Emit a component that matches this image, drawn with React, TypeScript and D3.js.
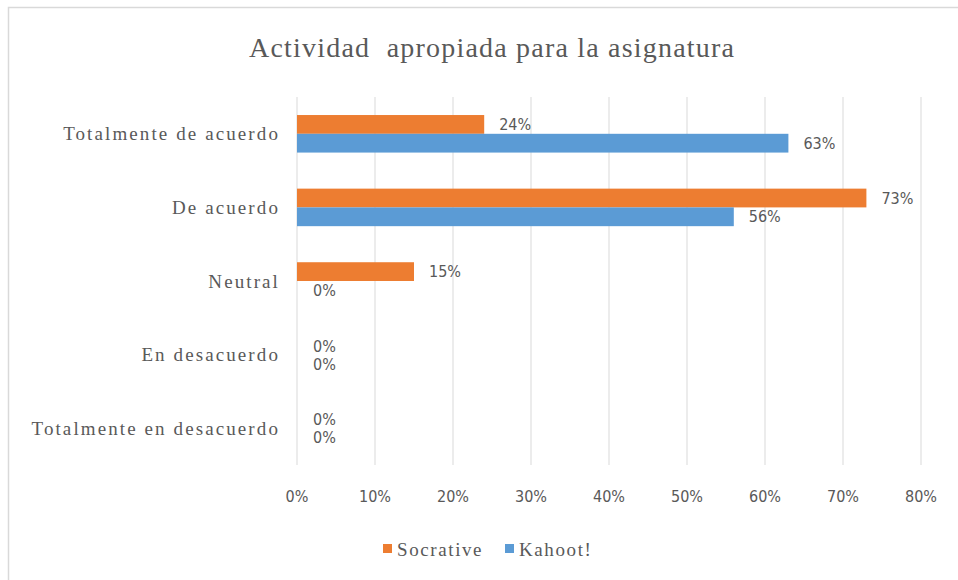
import React from 'react';
import * as d3 from 'd3';

const categories = [
  'Totalmente de acuerdo',
  'De acuerdo',
  'Neutral',
  'En desacuerdo',
  'Totalmente en desacuerdo'
];
const seriesNames = ['Socrative', 'Kahoot!'];
const socrative = [0.24, 0.73, 0.15, 0, 0];
const kahoot = [0.63, 0.56, 0, 0, 0];
const xTicks = [0, 0.1, 0.2, 0.3, 0.4, 0.5, 0.6, 0.7, 0.8];
const colors = ['#ed7d31', '#5b9bd5'];

const width = 958;
const height = 580;
const margin = { top: 97, right: 37, bottom: 115, left: 297 };
const serif = '"Liberation Serif", "DejaVu Serif", serif';
const sans = '"Liberation Sans Narrow", "DejaVu Sans Condensed", "Liberation Sans", sans-serif';

const App = () => {
  const x = d3
    .scaleLinear()
    .domain([0, 0.8])
    .range([margin.left, width - margin.right]);

  const y = d3
    .scaleBand()
    .domain(categories)
    .range([margin.top, height - margin.bottom])
    .paddingInner(0.49)
    .paddingOuter(0.245);

  const inner = d3
    .scaleBand()
    .domain(seriesNames)
    .range([0, y.bandwidth()]);

  const series = [socrative, kahoot];
  const pct = d3.format('.0%');

  return (
    <svg
      width={width}
      height={height}
      style={{ position: 'absolute', left: 0, top: 0, background: '#fff' }}
    >
      <rect x={8.5} y={7.5} width={width} height={height} fill="#fff" stroke="#d9d9d9" strokeWidth={1.5} />

      <text
        x={249}
        y={57}
        fontFamily={serif}
        fontSize={28}
        fill="#595959"
        textLength={485}
        lengthAdjust="spacing"
        style={{ whiteSpace: 'pre' }}
      >
        {'Actividad  apropiada para la asignatura'}
      </text>

      {/* gridlines */}
      <g>
        {xTicks.map(t => (
          <line
            key={t}
            x1={x(t)}
            x2={x(t)}
            y1={margin.top}
            y2={height - margin.bottom}
            stroke="#d9d9d9"
            strokeWidth={1}
          />
        ))}
      </g>

      {/* tick labels */}
      <g fontFamily={sans} fontSize={16} fill="#595959">
        {xTicks.map(t => (
          <text key={t} x={x(t)} y={502} textAnchor="middle">
            {pct(t)}
          </text>
        ))}
      </g>

      {/* category labels */}
      <g fontFamily={serif} fontSize={19} fill="#595959" letterSpacing={2.1}>
        {categories.map(c => (
          <text key={c} x={280} y={(y(c) ?? 0) + y.bandwidth() / 2} dy="0.35em" textAnchor="end">
            {c}
          </text>
        ))}
      </g>

      {/* bars */}
      {series.map((vals, si) => (
        <g key={seriesNames[si]}>
          {categories.map((c, ci) => (
            <rect
              key={c}
              x={x(0)}
              y={(y(c) ?? 0) + (inner(seriesNames[si]) ?? 0)}
              width={x(vals[ci]) - x(0)}
              height={inner.bandwidth()}
              fill={colors[si]}
            />
          ))}
        </g>
      ))}

      {/* data labels */}
      <g fontFamily={sans} fontSize={16} fill="#595959">
        {series.map((vals, si) =>
          categories.map((c, ci) => (
            <text
              key={seriesNames[si] + c}
              x={x(vals[ci]) + (vals[ci] > 0 ? 15 : 16)}
              y={(y(c) ?? 0) + (inner(seriesNames[si]) ?? 0) + inner.bandwidth() / 2 + (vals[ci] > 0 ? 0 : si === 0 ? 1 : 0)}
              dy="0.35em"
            >
              {pct(vals[ci])}
            </text>
          ))
        )}
      </g>

      {/* legend */}
      <g fontFamily={serif} fontSize={19} fill="#595959" letterSpacing={1.6}>
        {seriesNames.map((s, i) => {
          const lx = i === 0 ? 383 : 505;
          return (
            <g key={s}>
              <rect x={lx} y={544} width={9} height={9} fill={colors[i]} />
              <text x={lx + 14} y={549} dy="0.35em">
                {s}
              </text>
            </g>
          );
        })}
      </g>
    </svg>
  );
};

export default App;
